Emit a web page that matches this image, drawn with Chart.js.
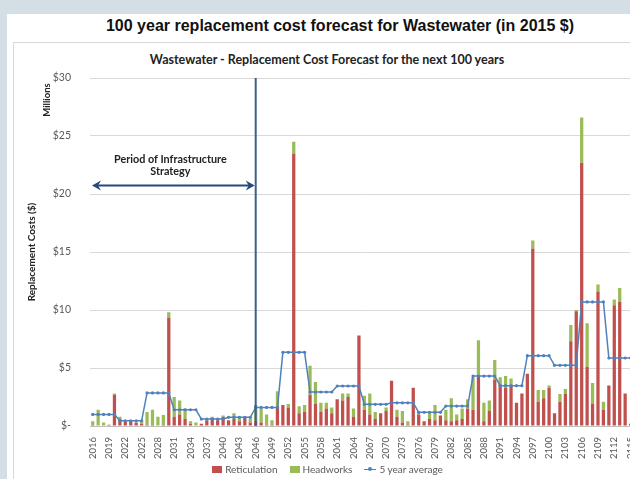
<!DOCTYPE html>
<html>
<head>
<meta charset="utf-8">
<script src="https://cdn.jsdelivr.net/npm/chart.js@4.4.1/dist/chart.umd.min.js"></script>
<style>
  html, body { margin: 0; padding: 0; overflow: hidden; background: #d3dee5; }
  body { width: 630px; height: 479px; position: relative; font-family: "Lato", sans-serif; }
  #panel { position: absolute; left: 7px; top: 14px; width: 700px; height: 520px; background: #fff; }
  #box { position: absolute; left: 13px; top: 42px; width: 700px; height: 500px; border-left: 1px solid #d9d9d9; border-top: 1px solid #d9d9d9; box-sizing: border-box; }
  #mainTitle { position: absolute; left: 0; top: 17px; width: 680px; text-align: center; font: bold 16px "Liberation Sans", Arial, sans-serif; color: #111; }
  #subTitle { position: absolute; left: 0; top: 52px; width: 654px; text-align: center; font: bold 12.5px "Lato", sans-serif; color: #222; }
  #wrap { position: absolute; left: 12px; top: 44px; width: 633px; height: 420px; }
  #legend { position: absolute; left: 0; top: 463px; width: 655px; display: flex; justify-content: center; align-items: center; font: 10px "Lato", sans-serif; color: #595959; }
  #legend span.item { display: flex; align-items: center; margin: 0 6px; }
  #legend i.box { display: inline-block; width: 10px; height: 7px; margin-right: 3px; }
  #legend i.ln { display: inline-block; position: relative; width: 12px; height: 7px; margin-right: 3px; }
  #legend i.ln:before { content: ""; position: absolute; left: 0; right: 0; top: 3px; height: 1px; background: #4f81bd; }
  #legend i.ln:after { content: ""; position: absolute; left: 4px; top: 1px; width: 4px; height: 4px; border-radius: 50%; background: #4f81bd; }
</style>
</head>
<body>
<div id="panel"></div>
<div id="box"></div>
<div id="mainTitle">100 year replacement cost forecast for Wastewater (in 2015 $)</div>
<div id="subTitle">Wastewater - Replacement Cost Forecast for the next 100 years</div>
<div id="wrap"><canvas id="myChart" width="633" height="420"></canvas></div>
<div id="legend">
  <span class="item"><i class="box" style="background:#c0504d"></i>Reticulation</span>
  <span class="item"><i class="box" style="background:#9bbb59"></i>Headworks</span>
  <span class="item"><i class="ln"></i>5 year average</span>
</div>
<script>
const years = [
  2016, 2017, 2018, 2019, 2020, 2021, 2022, 2023, 2024, 2025,
  2026, 2027, 2028, 2029, 2030, 2031, 2032, 2033, 2034, 2035,
  2036, 2037, 2038, 2039, 2040, 2041, 2042, 2043, 2044, 2045,
  2046, 2047, 2048, 2049, 2050, 2051, 2052, 2053, 2054, 2055,
  2056, 2057, 2058, 2059, 2060, 2061, 2062, 2063, 2064, 2065,
  2066, 2067, 2068, 2069, 2070, 2071, 2072, 2073, 2074, 2075,
  2076, 2077, 2078, 2079, 2080, 2081, 2082, 2083, 2084, 2085,
  2086, 2087, 2088, 2089, 2090, 2091, 2092, 2093, 2094, 2095,
  2096, 2097, 2098, 2099, 2100, 2101, 2102, 2103, 2104, 2105,
  2106, 2107, 2108, 2109, 2110, 2111, 2112, 2113, 2114, 2115
];

// $ millions
const reticulation = [
  0.1, 0, 0, 0.1, 2.7, 0.6, 0.4, 0.4, 0.3, 0.2,
  0.1, 0.1, 0, 0.1, 9.3, 0.8, 1.0, 0.6, 0.2, 0,
  0.2, 0.5, 0.7, 0.5, 0.8, 0.5, 0.6, 0.4, 0.8, 0.3,
  0.4, 0.3, 0.1, 0.1, 1.7, 1.8, 1.6, 23.5, 1.1, 1.2,
  2.7, 1.9, 1.2, 1.5, 1.1, 2.3, 2.2, 2.5, 0.8, 7.8,
  1.4, 1.0, 0.6, 1.1, 1.3, 3.9, 0.8, 0.3, 0.1, 3.3,
  1.0, 0.4, 0.6, 0.5, 0.9, 0.5, 0.4, 0.5, 0.6, 1.5,
  1.4, 4.3, 0.4, 1.3, 4.0, 3.6, 3.3, 3.5, 2.0, 2.8,
  4.5, 15.3, 2.1, 2.4, 3.3, 1.1, 2.1, 2.75, 7.3, 9.9,
  22.7, 5.1, 1.95, 11.6, 1.4, 3.5, 10.4, 10.7, 2.8, 0.2
];

const headworks = [
  0.3, 1.4, 0.3, 0, 0.1, 0.2, 0, 0.1, 0, 0.3,
  1.1, 1.3, 0.8, 0.85, 0.5, 1.7, 1.2, 0.9, 0.2, 0.3,
  0, 0, 0.1, 0.1, 0.1, 0, 0.5, 0.3, 0, 0.35,
  1.4, 1.2, 0.9, 0.4, 1.3, 0, 0.3, 1.0, 0.6, 0.6,
  2.5, 1.9, 0.8, 0.5, 0.5, 0, 0.6, 0.3, 0.7, 0,
  1.2, 1.8, 0.6, 0, 0.3, 0, 0.6, 1.0, 0.3, 0,
  0.2, 0, 0.5, 1.3, 0, 0.9, 2.0, 0.5, 0.9, 0.8,
  2.8, 3.1, 1.6, 0.9, 1.7, 0.6, 1.0, 0.6, 0, 0,
  0, 0.7, 1.0, 0.7, 0.2, 0, 0.65, 0.45, 1.4, 0.1,
  3.9, 3.75, 1.75, 0.6, 0.7, 0, 0.5, 1.2, 0, 0
];

// one value per 5-year block
const fiveYearAverage = [
  1.0, 0.45, 2.85, 1.4, 0.6, 0.75, 1.6, 6.35, 2.93, 3.45,
  1.87, 2.0, 1.18, 1.72, 4.3, 3.48, 6.06, 5.23, 10.7, 5.86
];

const yTicks = [0, 5, 10, 15, 20, 25, 30];
const strategyEndYear = 2046;
const arrowLevel = 20.8;

const textColor = '#595959';

const annotations = {
  id: 'annotations',
  afterDatasetsDraw(chart) {
    const { ctx, chartArea, scales: { x, y } } = chart;
    const lx = x.getPixelForValue(years.indexOf(strategyEndYear));
    ctx.save();

    // end of strategy period
    ctx.strokeStyle = '#3d5f8f';
    ctx.lineWidth = 2;
    ctx.beginPath();
    ctx.moveTo(lx, chartArea.top);
    ctx.lineTo(lx, chartArea.bottom);
    ctx.stroke();

    // double arrow
    const ay = Math.round(y.getPixelForValue(arrowLevel)) + 0.5;
    const x0 = chartArea.left + 2, x1 = lx - 1;
    ctx.strokeStyle = '#244a7c';
    ctx.fillStyle = '#244a7c';
    ctx.lineWidth = 2;
    ctx.beginPath();
    ctx.moveTo(x0 + 4, ay);
    ctx.lineTo(x1 - 4, ay);
    ctx.stroke();
    [[x0, 1], [x1, -1]].forEach(([tx, d]) => {
      ctx.beginPath();
      ctx.moveTo(tx, ay);
      ctx.lineTo(tx + d * 9, ay - 5);
      ctx.lineTo(tx + d * 6, ay);
      ctx.lineTo(tx + d * 9, ay + 5);
      ctx.closePath();
      ctx.fill();
    });

    ctx.fillStyle = '#222';
    ctx.font = 'bold 10.8px Lato';
    ctx.textAlign = 'center';
    ctx.textBaseline = 'middle';
    const mx = (x0 + x1) / 2 - 3;
    ctx.fillText('Period of Infrastructure', mx, y.getPixelForValue(23.0));
    ctx.fillText('Strategy', mx, y.getPixelForValue(21.9));

    // axis captions
    ctx.font = 'bold 9.5px Lato';
    ctx.save();
    ctx.translate(35, 56);
    ctx.rotate(-Math.PI / 2);
    ctx.fillText('Millions', 0, 0);
    ctx.restore();
    ctx.font = 'bold 10px Lato';
    ctx.translate(20, (chartArea.top + chartArea.bottom) / 2);
    ctx.rotate(-Math.PI / 2);
    ctx.fillText('Replacement Costs ($)', 0, 0);
    ctx.restore();
  }
};

const ctx = document.getElementById('myChart');

new Chart(ctx, {
  type: 'bar',
  data: {
    labels: years,
    datasets: [
      {
        type: 'line',
        label: '5 year average',
        data: years.map((_, i) => fiveYearAverage[Math.floor(i / 5)]),
        borderColor: '#4f81bd',
        backgroundColor: '#4f81bd',
        borderWidth: 1.5,
        pointRadius: 1.6,
        pointBorderWidth: 0,
        stack: 'avg',
        order: 0
      },
      {
        label: 'Reticulation',
        data: reticulation,
        backgroundColor: '#c0504d',
        stack: 'cost',
        order: 1,
        barPercentage: 0.6,
        categoryPercentage: 1.0
      },
      {
        label: 'Headworks',
        data: headworks,
        backgroundColor: '#9bbb59',
        stack: 'cost',
        order: 1,
        barPercentage: 0.6,
        categoryPercentage: 1.0
      }
    ]
  },
  options: {
    responsive: false,
    animation: false,
    layout: { padding: { top: 34, right: 3, left: 0, bottom: 0 } },
    plugins: {
      legend: { display: false },
      tooltip: { enabled: false }
    },
    scales: {
      x: {
        stacked: true,
        grid: { display: false },
        border: { color: '#bfbfbf' },
        ticks: {
          autoSkip: false,
          minRotation: 90,
          maxRotation: 90,
          padding: 3,
          color: textColor,
          font: { family: 'Lato', size: 9.5 },
          callback: function (value, index) {
            return index % 3 === 0 ? this.getLabelForValue(value) : '';
          }
        },
        afterFit: s => { s.height = 38; }
      },
      y: {
        stacked: true,
        min: 0,
        max: 30,
        afterBuildTicks: s => { s.ticks = yTicks.map(v => ({ value: v })); },
        grid: { color: '#d9d9d9', drawTicks: false },
        border: { display: false },
        ticks: {
          padding: 19,
          color: textColor,
          font: { family: 'Lato', size: 10.5 },
          callback: v => v === 0 ? '$-' : '$' + v
        },
        afterFit: s => { s.width = 78; }
      }
    }
  },
  plugins: [annotations]
});
</script>
</body>
</html>
